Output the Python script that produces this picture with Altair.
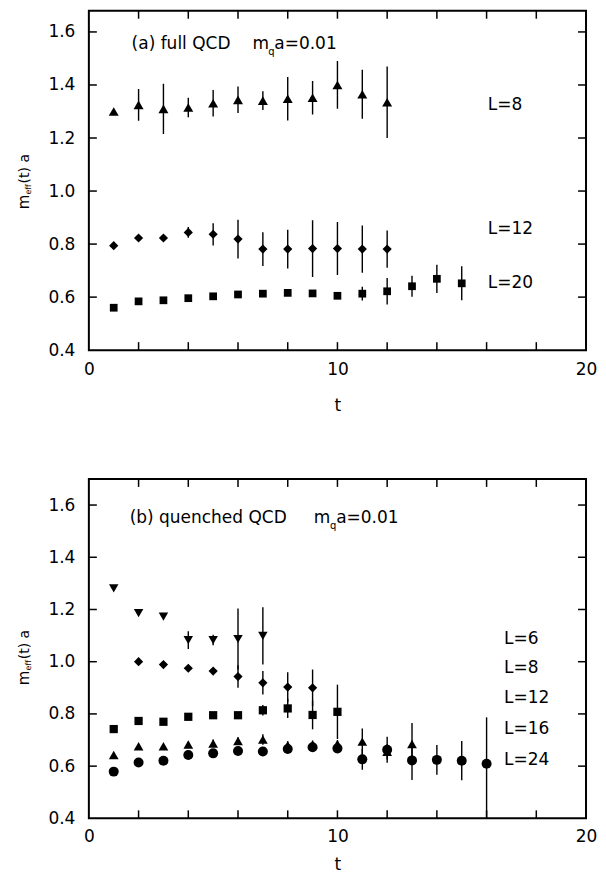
import altair as alt
import pandas as pd

FONT = "DejaVu Sans"

# ---------------- data: panel (a) full QCD ----------------
a_L8_t = list(range(1, 13))
a_L8_v = [1.300, 1.325, 1.310, 1.315, 1.331, 1.344, 1.341, 1.348, 1.352, 1.400, 1.365, 1.335]
a_L8_e = [0.0, 0.060, 0.095, 0.037, 0.050, 0.050, 0.035, 0.082, 0.063, 0.090, 0.092, 0.135]

a_L12_t = list(range(1, 13))
a_L12_v = [0.794, 0.823, 0.823, 0.844, 0.837, 0.819, 0.781, 0.781, 0.783, 0.783, 0.781, 0.781]
a_L12_e = [0.0, 0.0, 0.0, 0.020, 0.042, 0.073, 0.064, 0.073, 0.107, 0.100, 0.089, 0.070]

a_L20_t = list(range(1, 16))
a_L20_v = [0.560, 0.584, 0.588, 0.596, 0.603, 0.610, 0.613, 0.616, 0.614, 0.605,
           0.613, 0.622, 0.641, 0.669, 0.652]
a_L20_e = [0.0, 0.0, 0.0, 0.0, 0.0, 0.0, 0.0, 0.0, 0.0, 0.0,
           0.026, 0.050, 0.040, 0.053, 0.064]

# ---------------- data: panel (b) quenched QCD ----------------
b_L6_t = list(range(1, 8))
b_L6_v = [1.281, 1.186, 1.173, 1.083, 1.083, 1.087, 1.099]
b_L6_e = [0.0, 0.0, 0.0, 0.034, 0.020, 0.117, 0.110]

b_L8_t = list(range(2, 10))
b_L8_v = [1.000, 0.989, 0.975, 0.964, 0.943, 0.919, 0.903, 0.900]
b_L8_e = [0.0, 0.0, 0.0, 0.0, 0.043, 0.045, 0.057, 0.070]

b_L12_t = list(range(1, 11))
b_L12_v = [0.742, 0.773, 0.770, 0.789, 0.795, 0.795, 0.814, 0.821, 0.796, 0.808]
b_L12_e = [0.0, 0.0, 0.0, 0.0, 0.0, 0.0, 0.020, 0.037, 0.055, 0.104]

b_L16_t = list(range(1, 14))
b_L16_v = [0.643, 0.676, 0.676, 0.683, 0.687, 0.696, 0.702, 0.680, 0.683, 0.685,
           0.694, 0.655, 0.685]
b_L16_e = [0.0, 0.0, 0.0, 0.010, 0.015, 0.015, 0.020, 0.015, 0.015, 0.015,
           0.050, 0.030, 0.080]

b_L24_t = list(range(1, 17))
b_L24_v = [0.579, 0.614, 0.621, 0.643, 0.649, 0.658, 0.656, 0.666, 0.672, 0.668,
           0.626, 0.663, 0.622, 0.624, 0.621, 0.609]
b_L24_e = [0.0, 0.0, 0.0, 0.010, 0.010, 0.010, 0.010, 0.010, 0.010, 0.015,
           0.040, 0.050, 0.075, 0.057, 0.075, 0.178]
b_L24_e_lo = [0.0, 0.0, 0.0, 0.010, 0.010, 0.010, 0.010, 0.010, 0.010, 0.015,
              0.040, 0.050, 0.075, 0.057, 0.075, 0.250]

# ---------------- axes / labels ----------------
x_label_values = [0, 10, 20]
x_tick_values = [2, 4, 6, 8, 10, 12, 14, 16, 18]
y_label_values = [0.4, 0.6, 0.8, 1.0, 1.2, 1.4, 1.6]
y_tick_values = [0.6, 0.8, 1.0, 1.2, 1.4, 1.6]

a_series_labels = ["L=8", "L=12", "L=20"]
a_label_t = [16.05, 16.05, 16.05]
a_label_v = [1.326, 0.858, 0.652]

b_series_labels = ["L=6", "L=8", "L=12", "L=16", "L=24"]
b_label_t = [16.7, 16.7, 16.7, 16.7, 16.7]
b_label_v = [1.088, 0.974, 0.861, 0.741, 0.622]

W = 498
H_TOP = 340
H_BOT = 340


def series_df(ts, vs, es, es_lo=None):
    if es_lo is None:
        es_lo = es
    return pd.DataFrame({
        "t": ts, "v": vs,
        "lo": [v - e for v, e in zip(vs, es_lo)],
        "hi": [v + e for v, e in zip(vs, es)],
        "e": [max(a, b) for a, b in zip(es, es_lo)],
    })


def panel(series, labels_df, title_parts, y_domain, height, ytitle_v,
          label_pad, title_pad):
    xs = alt.Scale(domain=[0, 20], nice=False, zero=False)
    ys = alt.Scale(domain=y_domain, nice=False, zero=False)
    xax = alt.Axis(values=x_label_values, title="t", labelFlush=False, ticks=False,
                   domain=False, grid=False, labelPadding=label_pad,
                   titlePadding=title_pad, labelOverlap=False)
    yax = alt.Axis(values=y_label_values, format=".1f", title=None, ticks=False,
                   domain=False, grid=False, labelPadding=14, labelFlush=False,
                   labelOverlap=False)

    def X(f):
        return alt.X(f, scale=xs, axis=xax)

    def Y(f):
        return alt.Y(f, scale=ys, axis=yax)

    layers = []
    for df, shape, size in series:
        bars = alt.Chart(df).transform_filter("datum.e > 0").mark_rule(
            color="black", strokeWidth=1.4, clip=True
        ).encode(x=X("t:Q"), y=Y("lo:Q"), y2="hi:Q")
        pts = alt.Chart(df).mark_point(
            shape=shape, filled=True, size=size, color="black", opacity=1
        ).encode(x=X("t:Q"), y=Y("v:Q"))
        layers += [bars, pts]

    xt = pd.DataFrame({"t": x_tick_values})
    yt = pd.DataFrame({"v": y_tick_values})
    layers += [
        alt.Chart(xt).mark_rule(color="black", strokeWidth=1.5).encode(
            x=X("t:Q"), y=alt.value(height), y2=alt.value(height - 8)),
        alt.Chart(xt).mark_rule(color="black", strokeWidth=1.5).encode(
            x=X("t:Q"), y=alt.value(0), y2=alt.value(8)),
        alt.Chart(yt).mark_rule(color="black", strokeWidth=1.5).encode(
            y=Y("v:Q"), x=alt.value(0), x2=alt.value(8)),
        alt.Chart(yt).mark_rule(color="black", strokeWidth=1.5).encode(
            y=Y("v:Q"), x=alt.value(W), x2=alt.value(W - 8)),
    ]

    layers.append(
        alt.Chart(labels_df).mark_text(
            align="left", baseline="middle", font=FONT, fontSize=17, color="black"
        ).encode(x=X("t:Q"), y=Y("v:Q"), text="s:N")
    )

    for txt, t, v, fs, dy in title_parts:
        layers.append(
            alt.Chart(pd.DataFrame({"t": [t], "v": [v], "s": [txt]})).mark_text(
                align="left", baseline="alphabetic", font=FONT, fontSize=fs,
                dy=dy, color="black"
            ).encode(x=X("t:Q"), y=Y("v:Q"), text="s:N")
        )

    # rotated y title  m_eff(t) a
    for txt, fs, dx, dy in [("m", 15, 0, 0), ("eff", 8, 14.8, 2), ("(t) a", 14, 26.0, 0)]:
        layers.append(
            alt.Chart(pd.DataFrame({"v": [ytitle_v], "s": [txt]})).mark_text(
                angle=270, align="left", baseline="alphabetic", font=FONT,
                fontSize=fs, dx=dx, dy=dy, color="black"
            ).encode(x=alt.value(-60), y=Y("v:Q"), text="s:N")
        )

    return alt.layer(*layers).properties(width=W, height=height)


top_series = [
    (series_df(a_L8_t, a_L8_v, a_L8_e), "triangle-up", 100),
    (series_df(a_L12_t, a_L12_v, a_L12_e), "diamond", 85),
    (series_df(a_L20_t, a_L20_v, a_L20_e), "square", 60),
]
bot_series = [
    (series_df(b_L6_t, b_L6_v, b_L6_e), "triangle-down", 90),
    (series_df(b_L8_t, b_L8_v, b_L8_e), "diamond", 85),
    (series_df(b_L12_t, b_L12_v, b_L12_e), "square", 68),
    (series_df(b_L16_t, b_L16_v, b_L16_e), "triangle-up", 95),
    (series_df(b_L24_t, b_L24_v, b_L24_e, b_L24_e_lo), "circle", 100),
]

top_labels = pd.DataFrame({"t": a_label_t, "v": a_label_v, "s": a_series_labels})
bot_labels = pd.DataFrame({"t": b_label_t, "v": b_label_v, "s": b_series_labels})

top_title = [("(a) full QCD", 1.72, 1.537, 17, 0), ("m", 6.58, 1.537, 17, 0),
             ("q", 7.22, 1.537, 10, 6), ("a=0.01", 7.46, 1.537, 17, 0)]
bot_title = [("(b) quenched QCD", 1.64, 1.533, 17, 0), ("m", 9.05, 1.533, 17, 0),
             ("q", 9.70, 1.533, 10, 6), ("a=0.01", 9.95, 1.533, 17, 0)]

top = panel(top_series, top_labels, top_title, [0.4, 1.68], H_TOP, 0.931, 11, 20)
bot = panel(bot_series, bot_labels, bot_title, [0.4, 1.7], H_BOT, 0.91, 10, 12)

chart = alt.vconcat(top, bot, spacing=63).configure_view(
    stroke="black", strokeWidth=2
).configure_axis(
    labelFont=FONT, labelFontSize=17, labelColor="black",
    titleFont=FONT, titleFontSize=17, titleFontWeight="normal", titleColor="black"
).properties(
    padding={"left": 7, "top": 0, "right": 0, "bottom": 0}
)

chart.save("out.html", embed_options={"renderer": "svg", "actions": False})
